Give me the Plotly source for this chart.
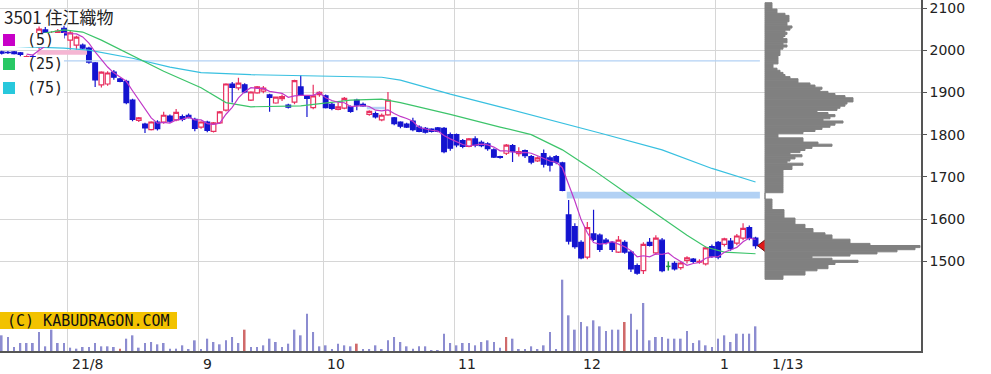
import plotly.graph_objects as go
import pandas as pd

# ---------------- data ----------------
opens = [1996,1995,1996,1994,1975,1985,2008,2048,2036,2040,
         2052,2024,2012,2012,2005,1970,1918,1920,1948,1932,
         1926,1882,1834,1825,1812,1830,1830,1844,1835,1843,
         1846,1836,1818,1830,1808,1828,1858,1920,1911,1918,
         1882,1899,1903,1894,1875,1885,1870,1877,1913,1890,
         1864,1895,1892,1872,1860,1863,1866,1882,1872,1848,
         1850,1835,1847,1840,1830,1825,1832,1818,1815,1813,
         1816,1815,1800,1800,1786,1772,1790,1782,1778,1764,
         1748,1756,1774,1755,1762,1748,1738,1755,1745,1748,
         1733,1610,1582,1545,1510,1565,1562,1550,1545,1522,
         1545,1522,1490,1478,1545,1520,1550,1488,1495,1485,
         1502,1505,1498,1494,1535,1545,1540,1548,1543,1555,
         1580,1555]
highs = [1999,1998,1998,1996,1988,1989,2056,2055,2045,2050,
         2058,2048,2034,2016,2008,1972,1950,1950,1953,1934,
         1930,1885,1842,1828,1832,1834,1854,1848,1861,1848,
         1850,1840,1832,1833,1830,1856,1922,1925,1935,1922,
         1903,1915,1915,1897,1890,1895,1873,1930,1941,1893,
         1918,1903,1895,1876,1876,1889,1869,1885,1876,1858,
         1855,1850,1901,1842,1832,1828,1840,1822,1818,1815,
         1818,1818,1805,1803,1790,1792,1796,1786,1782,1768,
         1750,1778,1778,1770,1765,1752,1748,1765,1750,1752,
         1736,1645,1590,1550,1593,1622,1566,1555,1548,1560,
         1550,1525,1495,1545,1555,1562,1555,1500,1500,1500,
         1512,1508,1505,1535,1540,1548,1556,1555,1565,1590,
         1585,1558]
lows = [1990,1991,1990,1986,1970,1978,2002,2030,2025,2032,
        2028,2001,2001,2003,1968,1913,1912,1916,1930,1924,
        1872,1832,1830,1804,1810,1810,1826,1828,1832,1832,
        1838,1808,1814,1806,1805,1825,1855,1876,1905,1898,
        1880,1897,1898,1854,1873,1880,1862,1872,1892,1842,
        1860,1890,1862,1858,1858,1860,1852,1858,1866,1845,
        1838,1832,1845,1822,1815,1816,1808,1806,1803,1805,
        1806,1756,1762,1770,1768,1770,1770,1770,1762,1745,
        1743,1752,1735,1748,1745,1730,1735,1722,1713,1730,
        1666,1540,1530,1505,1505,1548,1522,1540,1522,1520,
        1518,1475,1468,1470,1535,1515,1474,1478,1478,1480,
        1495,1496,1494,1490,1508,1505,1535,1525,1538,1550,
        1550,1530]
closes = [1993,1994,1992,1990,1985,1982,2050,2036,2040,2045,
          2036,2041,2031,2005,1972,1930,1948,1946,1936,1926,
          1876,1836,1840,1816,1830,1814,1846,1832,1853,1836,
          1840,1815,1830,1810,1828,1854,1920,1912,1922,1901,
          1901,1913,1910,1888,1889,1890,1865,1928,1894,1886,
          1892,1900,1864,1862,1866,1886,1855,1870,1868,1855,
          1842,1846,1882,1826,1820,1818,1812,1808,1806,1808,
          1808,1760,1768,1776,1772,1790,1775,1774,1767,1747,
          1746,1775,1760,1760,1750,1735,1745,1730,1728,1735,
          1668,1548,1535,1508,1580,1552,1528,1545,1528,1550,
          1522,1482,1472,1540,1538,1555,1478,1488,1482,1496,
          1508,1500,1500,1532,1512,1510,1553,1530,1560,1578,
          1555,1537]
volumes = [47,42,12,24,24,24,57,14,64,24,
           24,10,7,12,12,24,14,14,12,7,
           37,47,10,24,27,20,24,7,7,17,
           4,32,4,37,27,20,32,42,24,64,
           12,12,17,37,27,12,22,64,47,112,
           57,14,17,4,22,17,14,22,4,4,
           17,4,32,42,27,14,7,14,14,2,
           2,52,24,17,24,24,17,27,32,27,
           10,42,37,4,4,14,4,17,57,4,
           214,107,64,87,74,92,74,60,64,64,
           87,112,64,144,32,42,42,37,37,37,
           60,24,32,17,12,37,47,27,52,52,
           52,74]
red_volume_days = [19, 39, 57, 81, 100]
doji_days = [107]

ma25_idx = [0, 5, 10, 13, 16, 21, 26, 32, 36, 40, 48, 56, 61, 64, 72, 80, 85, 90, 95, 100, 105, 110, 113, 116, 121]
ma25_val = [2030, 2036, 2048, 2043, 2024, 1986, 1950, 1911, 1876, 1866, 1868, 1882, 1884, 1876, 1848, 1818, 1800, 1764, 1716, 1664, 1612, 1562, 1534, 1522, 1518]
ma75_idx = [0, 5, 10, 14, 21, 27, 32, 40, 48, 61, 64, 72, 80, 93, 96, 106, 114, 121]
ma75_val = [2010, 2008, 2005, 2000, 1981, 1960, 1947, 1942, 1940, 1936, 1929, 1896, 1866, 1816, 1804, 1764, 1720, 1688]

month_start_idx = [11, 32, 52, 73, 93, 115]
month_labels = ["21/8", "9", "10", "11", "12", "1"]
last_label = "1/13"
price_ticks = [1500, 1600, 1700, 1800, 1900, 2000, 2100]

# price gaps ("windows"): start / end position, low / high price, direction
gap_start = [5.7, -0.3, 58.6, 90.7]
gap_end = [13.7, 121.7, 61.5, 121.7]
gap_low = [1989, 1973.5, 1860, 1649]
gap_high = [2000, 1976, 1866, 1665]
gap_dir = ["up", "down", "down", "down"]

# price-by-volume profile (5-yen bins from 1460 upward)
profile_levels = list(range(1460, 2115, 5))
profile_volume = [18, 18, 40, 40, 52, 63, 63, 70,
                  93, 67, 47, 85, 112, 132, 150, 155, 105, 85,
                  85, 67, 67, 60, 48, 48, 40, 40, 30, 30,
                  30, 19, 19, 19, 19, 7, 7, 7, 7, 7,
                  0, 0, 0, 18, 18, 18, 18, 18, 18, 18,
                  18, 18, 18, 18, 27, 27, 38, 22, 25, 30,
                  37, 25, 35, 40, 47, 67, 53, 38, 38, 13,
                  13, 38, 50, 57, 65, 70, 78, 58, 65, 70,
                  63, 52, 72, 75, 80, 82, 88, 88, 80, 70,
                  63, 55, 57, 50, 45, 33, 33, 25, 20, 18,
                  15, 12, 8, 8, 13, 13, 13, 13, 15, 15,
                  15, 18, 22, 18, 22, 22, 18, 20, 22, 20,
                  25, 27, 22, 22, 24, 24, 24, 20, 12, 12,
                  7, 7, 7]

# ---------------- figure ----------------
W, H = 991, 374
PW, PH = 921, 351          # plot area in pixels
def px(x):
    return x / PW
def py(y):
    return 1 - y / PH

idx = list(range(len(closes)))
ma5 = pd.Series(closes, dtype=float).rolling(5).mean()

fig = go.Figure()

# gap windows
gap_colors = {"up": "#f5b6d3", "down": "#b2d1f4"}
for s, e, lo, hi, d in zip(gap_start, gap_end, gap_low, gap_high, gap_dir):
    fig.add_trace(go.Scatter(x=[s, e, e, s, s], y=[lo, lo, hi, hi, lo], mode="lines",
                             fill="toself", fillcolor=gap_colors[d],
                             line=dict(width=0, color=gap_colors[d]),
                             hoverinfo="skip", showlegend=False))

# volume
vol_colors = ["#d06a6a" if i in red_volume_days else "#8c8cd0" for i in idx]
fig.add_trace(go.Bar(x=idx, y=volumes, width=0.28, marker=dict(color=vol_colors, line=dict(width=0)),
                     yaxis="y2", showlegend=False, hoverinfo="skip"))

# moving averages
fig.add_trace(go.Scatter(x=ma75_idx, y=ma75_val, mode="lines",
                         line=dict(color="#38c0e0", width=1.2), showlegend=False))
fig.add_trace(go.Scatter(x=ma25_idx, y=ma25_val, mode="lines",
                         line=dict(color="#3cc46a", width=1.2), showlegend=False))
fig.add_trace(go.Scatter(x=idx, y=ma5, mode="lines",
                         line=dict(color="#c038c8", width=1.2), showlegend=False))

# candles
c_idx = [i for i in idx if i not in doji_days]
fig.add_trace(go.Candlestick(
    x=c_idx,
    open=[opens[i] for i in c_idx], high=[highs[i] for i in c_idx],
    low=[lows[i] for i in c_idx], close=[closes[i] for i in c_idx],
    increasing=dict(line=dict(color="#e83060", width=1.2), fillcolor="white"),
    decreasing=dict(line=dict(color="#1414d0", width=1.2), fillcolor="#1414d0"),
    whiskerwidth=0, showlegend=False))
for d in doji_days:
    fig.add_trace(go.Scatter(x=[d, d, None, d - 0.35, d + 0.35],
                             y=[lows[d], highs[d], None, opens[d], closes[d]],
                             mode="lines", line=dict(color="#20a040", width=1.5),
                             showlegend=False))

# price-by-volume profile
fig.add_trace(go.Bar(y=profile_levels, x=profile_volume, orientation="h", width=5,
                     xaxis="x2", marker=dict(color="#808080", line=dict(width=1, color="#808080")),
                     showlegend=False, hoverinfo="skip"))

# last price marker
fig.add_trace(go.Scatter(x=[idx[-1] + 1.2], y=[closes[-1]], mode="markers",
                         marker=dict(symbol="triangle-left", size=11, color="#e01818",
                                     line=dict(color="#701010", width=1)),
                         showlegend=False))

x_left = -1.7 / 6.23
x_right = (PW - 1.7) / 6.23
y_top = 2100 + 8 * 2.3685
y_bot = 2100 - (PH - 8) * 2.3685

fig.update_layout(
    width=W, height=H,
    margin=dict(l=0, r=W - PW, t=0, b=H - PH),
    paper_bgcolor="white", plot_bgcolor="white",
    barmode="overlay", boxgap=0.25, boxgroupgap=0,
    showlegend=False,
    xaxis=dict(range=[x_left, x_right], tickvals=[m - 0.4 for m in month_start_idx],
               showticklabels=False, ticks="", showgrid=True, gridcolor="#d6d6d6",
               gridwidth=1, zeroline=False, showline=True, linecolor="#555555",
               linewidth=1.5, rangeslider=dict(visible=False)),
    xaxis2=dict(overlaying="x", range=[-765, PW - 765], visible=False),
    yaxis=dict(range=[y_bot, y_top], side="right", tickvals=price_ticks,
               ticks="outside", ticklen=4, tickcolor="#555555", showline=True,
               linecolor="#555555", linewidth=1.5, showgrid=True, gridcolor="#d6d6d6",
               zeroline=False, ticklabeloverflow="allow",
               tickfont=dict(family="DejaVu Sans", size=14, color="#222222")),
    yaxis2=dict(overlaying="y", range=[0, PH * 3], visible=False),
)

shapes = []
annotations = []

# legend rows
legend_colors = ["#c800c8", "#28c864", "#28c8dc"]
legend_labels = ["(5)", "(25)", "(75)"]
legend_y = [40, 64, 88]
for c, lab, yc in zip(legend_colors, legend_labels, legend_y):
    shapes.append(dict(type="rect", xref="paper", yref="paper", layer="above",
                       x0=px(0), x1=px(64), y0=py(yc + 7), y1=py(yc - 7),
                       fillcolor="white", line=dict(width=0)))
    shapes.append(dict(type="rect", xref="paper", yref="paper", layer="above",
                       x0=px(3), x1=px(15), y0=py(yc + 6), y1=py(yc - 6),
                       fillcolor=c, line=dict(width=0)))
    annotations.append(dict(text=lab, xref="paper", yref="paper", x=px(25), y=py(yc),
                            xanchor="left", yanchor="middle", showarrow=False,
                            font=dict(family="DejaVu Sans Mono", size=15, color="#222222")))

# title
annotations.append(dict(text="3501 住江織物", xref="paper", yref="paper", x=px(2), y=py(17),
                        xanchor="left", yanchor="middle", showarrow=False,
                        font=dict(family="Noto Sans CJK JP", size=17, color="#222222")))

# copyright
shapes.append(dict(type="rect", xref="paper", yref="paper", layer="above",
                   x0=px(0), x1=px(177), y0=py(329), y1=py(312),
                   fillcolor="#f2c200", line=dict(width=0)))
annotations.append(dict(text="(C) KABUDRAGON.COM", xref="paper", yref="paper",
                        x=px(88), y=py(320.5), xanchor="center", yanchor="middle",
                        showarrow=False,
                        font=dict(family="DejaVu Sans Mono", size=15, color="#111111")))

# date labels
for m, lab in zip(month_start_idx, month_labels):
    annotations.append(dict(text=lab, xref="x", yref="paper", x=m - 0.4, y=0,
                            xanchor="left", yanchor="top", xshift=2, yshift=-3,
                            showarrow=False,
                            font=dict(family="DejaVu Sans", size=14, color="#222222")))
annotations.append(dict(text=last_label, xref="x", yref="paper", x=idx[-1] + 2.3, y=0,
                        xanchor="left", yanchor="top", yshift=-3, showarrow=False,
                        font=dict(family="DejaVu Sans", size=14, color="#222222")))

fig.update_layout(shapes=shapes, annotations=annotations)
fig.write_html("out.html", config={"displayModeBar": False},
               post_script="document.body.style.margin='0';document.body.style.overflow='hidden';")
